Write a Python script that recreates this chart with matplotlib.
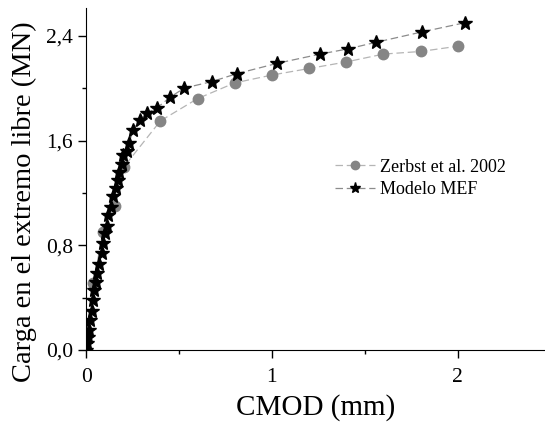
import matplotlib.pyplot as plt

plt.rcParams['font.family'] = ['Liberation Serif', 'DejaVu Serif']

# Zerbst et al. 2002
zerbst_x = [0.0, 0.038, 0.091, 0.156, 0.204, 0.40, 0.60, 0.80, 1.0, 1.20, 1.40, 1.60, 1.80, 2.0]
zerbst_y = [0.0, 0.51, 0.90, 1.10, 1.40, 1.75, 1.92, 2.04, 2.10, 2.15, 2.20, 2.26, 2.28, 2.32]

# Modelo MEF
mef_x = [0.0, 0.005, 0.011, 0.016, 0.022, 0.032, 0.038, 0.043, 0.054, 0.059, 0.070,
         0.086, 0.091, 0.102, 0.113, 0.118, 0.134, 0.145, 0.161, 0.172, 0.177,
         0.194, 0.199, 0.22, 0.231, 0.253, 0.29, 0.328, 0.382, 0.452, 0.527,
         0.677, 0.81, 1.03, 1.26, 1.41, 1.56, 1.81, 2.04]
mef_y = [0.0, 0.05, 0.10, 0.15, 0.23, 0.30, 0.38, 0.46, 0.52, 0.59, 0.66,
         0.74, 0.82, 0.89, 0.95, 1.03, 1.09, 1.18, 1.24, 1.30, 1.36,
         1.42, 1.49, 1.52, 1.58, 1.68, 1.76, 1.81, 1.85, 1.93, 2.00,
         2.05, 2.11, 2.19, 2.26, 2.30, 2.35, 2.43, 2.50]

fig = plt.figure(figsize=(5.45, 4.24), dpi=100)
ax = fig.add_axes([0.158, 0.1745, 0.842, 0.806])

ax.plot(zerbst_x, zerbst_y, color='#b5b5b5', lw=0.9, ls=(0, (6, 3)),
        marker='o', ms=7.5, mfc='#858585', mec='#858585', label='Zerbst et al. 2002')
ax.plot(mef_x, mef_y, color='#8c8c8c', lw=0.9, ls=(0, (6, 3)),
        marker='*', ms=10, mfc='black', mec='black', label='Modelo MEF')

ax.set_xlim(0, 2.47)
ax.set_ylim(0, 2.61)
ax.set_xticks([0, 1, 2])
ax.set_xticks([0.5, 1.5], minor=True)
ax.set_yticks([0, 0.8, 1.6, 2.4])
ax.set_yticklabels(['0,0', '0,8', '1,6', '2,4'])
ax.set_yticks([0.4, 1.2, 2.0], minor=True)
ax.tick_params(which='major', direction='out', length=6, width=1, labelsize=15.5)
ax.tick_params(axis='x', which='major', pad=7)
ax.tick_params(which='minor', direction='out', length=3, width=1)

ax.spines['top'].set_visible(False)
ax.spines['right'].set_visible(False)

ax.set_xlabel('CMOD (mm)', fontsize=21)
ax.set_ylabel('Carga en el extremo libre (MN)', fontsize=20.5)
ax.xaxis.set_label_coords(0.5, -0.13)
ax.yaxis.set_label_coords(-0.108, 0.435)

ax.legend(loc='upper left', bbox_to_anchor=(0.542, 0.56), frameon=False,
          fontsize=13, handlelength=2.2, handletextpad=0.3, labelspacing=0.3,
          borderpad=0, borderaxespad=0, markerscale=0.8)

fig.savefig('out.png', dpi=100)
